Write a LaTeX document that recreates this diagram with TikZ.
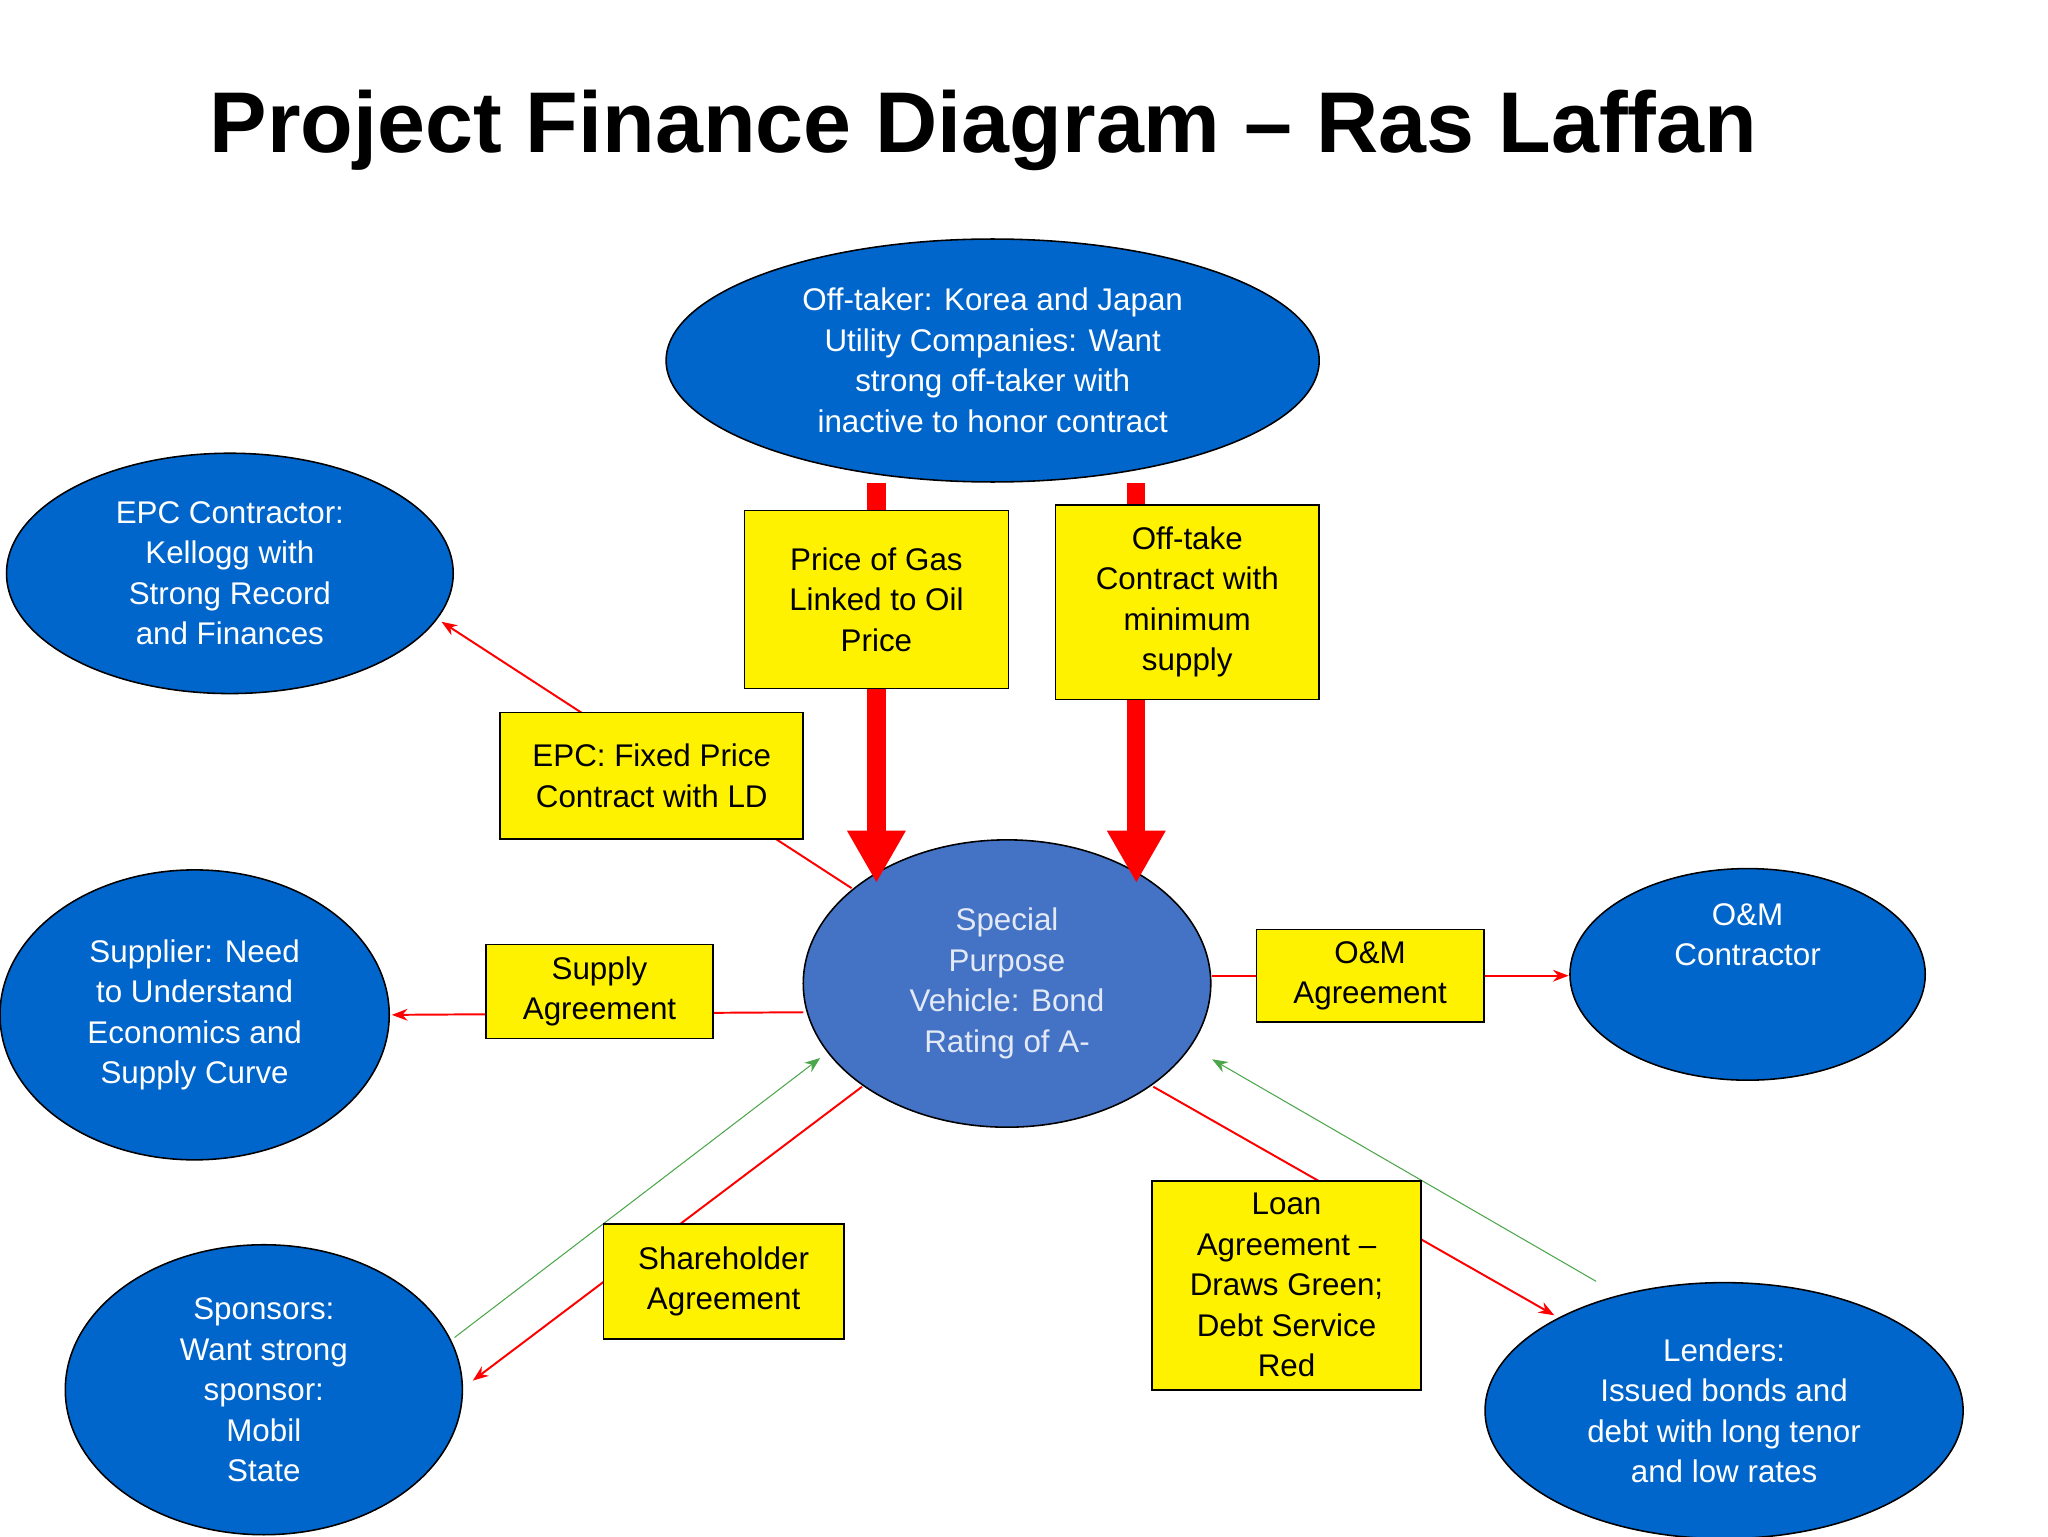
\documentclass[tikz,border=0pt]{standalone}
\usepackage{fontspec}
\setmainfont{Liberation Sans}
\usetikzlibrary{shapes.geometric,arrows.meta}
\definecolor{eblue}{HTML}{0066CC}
\definecolor{sblue}{HTML}{4472C4}
\begin{document}
\begin{tikzpicture}[x=1pt,y=-1pt,
  ell/.style={ellipse,draw=black,line width=1.2pt,fill=eblue,text=white,align=center,inner sep=0pt,font=\fontsize{24}{31}\selectfont},
  box/.style={draw=black,line width=1.2pt,fill=yellow,align=center,inner sep=0pt,font=\fontsize{24}{31}\selectfont},
  thin/.style={red,line width=1.5pt,-{Stealth[length=12pt,width=9pt]}},
  grn/.style={green!50!black!70,line width=0.8pt,-{Stealth[length=12pt,width=9pt]}},
  thick/.style={red,line width=14pt,-{Triangle[length=40pt,width=42pt]}}]
\useasboundingbox (0,0) rectangle (1568,1176);
\node[font=\fontsize{66}{70}\selectfont\bfseries] (title) at (753,100) {Project Finance Diagram – Ras Laffan};
\node[ell,minimum width=500,minimum height=186] (off) at (760,276) {Off-taker: Korea and Japan\\Utility Companies: Want\\strong off-taker with\\inactive to honor contract};
\node[ell,minimum width=342,minimum height=184] (epc) at (176,439) {EPC Contractor:\\Kellogg with\\Strong Record\\and Finances};
\node[ell,minimum width=298,minimum height=222] (sup) at (149,777) {Supplier: Need\\to Understand\\Economics and\\Supply Curve};
\node[ell,minimum width=304,minimum height=222] (spo) at (202,1064) {Sponsors:\\Want strong\\sponsor:\\Mobil\\State};
\node[ell,fill=sblue,text=white!85!sblue,minimum width=312,minimum height=220] (spv) at (771,753) {Special\\Purpose\\Vehicle: Bond\\Rating of A-};
\node[ell,minimum width=272,minimum height=162] (om) at (1338,746) {O\&M\\Contractor\\[30pt]};
\node[ell,minimum width=366,minimum height=196] (len) at (1320,1080) {Lenders:\\Issued bonds and\\debt with long tenor\\and low rates};
\coordinate (a1) at (671,370); \coordinate (a1e) at (671,676);
\coordinate (a2) at (870,370); \coordinate (a2e) at (870,676);
\draw[thick] (a1) -- (a1e);
\draw[thick] (a2) -- (a2e);
\coordinate (e1) at (652,680); \coordinate (e2) at (338,476);
\draw[thin] (e1) -- (e2);
\coordinate (s1) at (615,775); \coordinate (s2) at (300,777);
\draw[thin] (s1) -- (s2);
\coordinate (o1) at (928,747); \coordinate (o2) at (1201,747);
\draw[thin] (o1) -- (o2);
\coordinate (h1) at (660,832); \coordinate (h2) at (362,1057);
\draw[thin] (h1) -- (h2);
\coordinate (l1) at (883,832); \coordinate (l2) at (1190,1007);
\draw[thin] (l1) -- (l2);
\coordinate (g1) at (348,1024); \coordinate (g2) at (628,810);
\draw[grn] (g1) -- (g2);
\coordinate (g3) at (1222,981); \coordinate (g4) at (928,811);
\draw[grn] (g3) -- (g4);
\node[box,minimum width=202,minimum height=136] (b1) at (671,459) {Price of Gas\\Linked to Oil\\Price};
\node[box,minimum width=202,minimum height=149] (b2) at (909,461) {Off-take\\Contract with\\minimum\\supply};
\node[box,minimum width=232,minimum height=97] (b3) at (499,594) {EPC: Fixed Price\\Contract with LD};
\node[box,minimum width=174,minimum height=72] (b4) at (459,759) {Supply\\Agreement};
\node[box,minimum width=174,minimum height=71] (b5) at (1049,747) {O\&M\\Agreement};
\node[box,minimum width=184,minimum height=88] (b6) at (554,981) {Shareholder\\Agreement};
\node[box,minimum width=206,minimum height=160] (b7) at (985,984) {Loan\\Agreement –\\Draws Green;\\Debt Service\\Red};
\end{tikzpicture}
\end{document}
